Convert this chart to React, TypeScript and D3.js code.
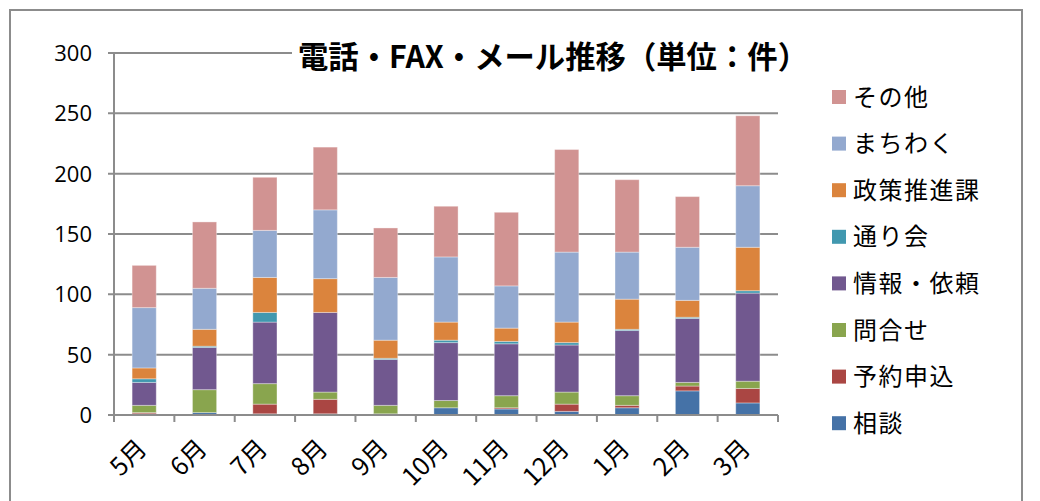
import React from 'react';
import * as d3 from 'd3';

// months on the x axis
const months = ['5月', '6月', '7月', '8月', '9月', '10月', '11月', '12月', '1月', '2月', '3月'];

// series, bottom of the stack first
const soudan = [1, 2, 1, 1, 1, 6, 5, 3, 6, 20, 10];
const yoyaku = [1, 0, 8, 12, 0, 0, 1, 6, 2, 4, 12];
const toiawase = [6, 19, 17, 6, 7, 6, 10, 10, 8, 3, 6];
const jouhou = [19, 35, 51, 66, 38, 48, 43, 39, 54, 53, 73];
const toorikai = [3, 1, 8, 0, 1, 2, 2, 2, 1, 1, 2];
const seisaku = [9, 14, 29, 28, 15, 15, 11, 17, 25, 14, 36];
const machiwaku = [50, 34, 39, 57, 52, 54, 35, 58, 39, 44, 51];
const sonota = [35, 55, 44, 52, 41, 42, 61, 85, 60, 42, 58];

const seriesNames = ['相談', '予約申込', '問合せ', '情報・依頼', '通り会', '政策推進課', 'まちわく', 'その他'];
const seriesValues = [soudan, yoyaku, toiawase, jouhou, toorikai, seisaku, machiwaku, sonota];
const colors = ['#4572A7', '#AA4643', '#89A54E', '#71588F', '#4198AF', '#DB843D', '#93A9CF', '#D19392'];

const yTicks = [0, 50, 100, 150, 200, 250, 300];

const title = '電話・FAX・メール推移（単位：件）';

const App = () => {
  const width = 1040;
  const height = 501;
  const left = 114;
  const right = 778;
  const top = 53;
  const bottom = 415;

  const x = d3.scaleBand<string>().domain(months).range([left, right]).paddingInner(0.6).paddingOuter(0.3);
  const y = d3.scaleLinear().domain([0, 300]).range([bottom, top]);

  const rows = months.map((m, i) => {
    const r: any = { month: m };
    seriesNames.forEach((s, j) => { r[s] = seriesValues[j][i]; });
    return r;
  });
  const stacked = d3.stack<any>().keys(seriesNames)(rows);

  const step = x.step();
  const font = '"Open Sans", "Noto Sans CJK JP", sans-serif';
  const jpFont = '"Noto Sans CJK JP", sans-serif';

  // legend, top entry is the last series
  const legendItems = seriesNames.map((s, i) => ({ name: s, color: colors[i] })).reverse();

  return (
    <svg width={width} height={height} style={{ position: 'absolute', left: 0, top: 0, background: '#fff' }}>
      <rect x={10} y={10} width={1012} height={520} fill="#fff" stroke="#8c8c8c" strokeWidth={2} />

      {/* grid lines */}
      {yTicks.map(t => (
        <g key={t}>
          <line x1={left - 6} x2={right} y1={y(t)} y2={y(t)} stroke="#8c8c8c" strokeWidth={2} />
          <text x={92} y={y(t)} dy="0.36em" textAnchor="end" fontFamily={font} fontSize={22} fill="#000">{t}</text>
        </g>
      ))}

      {/* bars */}
      {stacked.map((layer, j) => (
        <g key={layer.key} fill={colors[j]}>
          {layer.map((d, i) => (
            <rect key={i} x={x(months[i])} y={y(d[1])} width={x.bandwidth()} height={Math.max(0, y(d[0]) - y(d[1]))}
              stroke="#fff" strokeOpacity={0.35} strokeWidth={1} />
          ))}
        </g>
      ))}

      {/* axes */}
      <line x1={left} x2={left} y1={top} y2={bottom} stroke="#8c8c8c" strokeWidth={2} />
      <line x1={left} x2={right} y1={bottom} y2={bottom} stroke="#8c8c8c" strokeWidth={2} />
      {d3.range(months.length + 1).map(i => (
        <line key={i} x1={left + i * step} x2={left + i * step} y1={bottom} y2={bottom + 7} stroke="#8c8c8c" strokeWidth={2} />
      ))}
      {months.map(m => {
        const cx = (x(m) as number) + x.bandwidth() / 2 + 4;
        const cy = 450;
        return (
          <text key={m} x={cx} y={cy} textAnchor="end" fontFamily={jpFont} fontSize={25} fill="#000"
            transform={`rotate(-45 ${cx} ${cy})`}>{m}</text>
        );
      })}

      {/* title */}
      <rect x={292} y={34} width={520} height={44} fill="#fff" />
      <text x={553} y={57} dy="0.36em" textAnchor="middle" fontFamily={jpFont} fontWeight="bold" fontSize={31}
        textLength={510} lengthAdjust="spacingAndGlyphs" fill="#000">{title}</text>

      {/* legend */}
      {legendItems.map((d, i) => {
        const ly = 97 + i * 46.6;
        return (
          <g key={d.name}>
            <rect x={832} y={ly - 7} width={14} height={14} fill={d.color} />
            <text x={853} y={ly} dy="0.36em" fontFamily={jpFont} fontSize={24} letterSpacing={1.5} fill="#000">{d.name}</text>
          </g>
        );
      })}
    </svg>
  );
};

export default App;
